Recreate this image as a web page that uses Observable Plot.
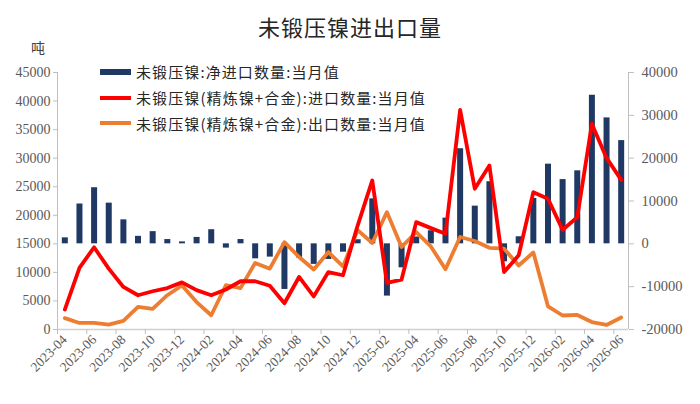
<!DOCTYPE html>
<html><head><meta charset="utf-8">
<script src="https://cdn.jsdelivr.net/npm/d3@7"></script>
<script src="https://cdn.jsdelivr.net/npm/@observablehq/plot@0.6"></script>
<style>
body{margin:0;background:#fff;}
#wrap{position:relative;width:700px;height:404px;overflow:hidden;background:#fff;}
#title{position:absolute;left:0;top:10px;width:700px;text-align:center;font-family:"Noto Sans CJK SC",sans-serif;font-size:22px;color:#262626;letter-spacing:1px;}
#unit{position:absolute;left:31px;top:37px;font-family:"Noto Sans CJK SC",sans-serif;font-size:14px;color:#404040;}
#legend{position:absolute;left:100px;top:59px;font-family:"Noto Sans CJK SC",sans-serif;font-size:15px;color:#262626;letter-spacing:1.1px;}
.row{display:flex;align-items:center;height:25.7px;white-space:nowrap;}
.sw{width:31px;margin-right:5px;}
</style></head>
<body>
<div id="wrap">
  <div id="chart"></div>
  <div id="title"></div>
  <div id="unit">吨</div>
  <div id="legend"></div>
</div>
<script>
const months = ["2023-04","2023-05","2023-06","2023-07","2023-08","2023-09","2023-10","2023-11","2023-12",
  "2024-01","2024-02","2024-03","2024-04","2024-05","2024-06","2024-07","2024-08","2024-09","2024-10","2024-11","2024-12",
  "2025-01","2025-02","2025-03","2025-04","2025-05","2025-06","2025-07","2025-08","2025-09","2025-10","2025-11","2025-12",
  "2026-01","2026-02","2026-03","2026-04","2026-05","2026-06"];
// net imports (right axis), tonnes
const netImport = [1400,9300,13100,9500,5600,1750,2850,1000,450,1500,
  3300,-1000,1000,-3500,-3100,-10650,-3300,-4800,-3650,-1950,
  950,10500,-12200,-5600,1600,3050,6000,22200,8800,14500,
  -4200,1650,10600,18600,15000,17050,34700,29400,24100];
// imports (left axis)
const imports = [3500,10800,14400,10650,7450,6000,6700,7250,8250,6900,
  6000,7000,8450,8450,7650,4600,9200,5800,10050,9500,
  18200,26100,8150,8750,18800,17750,16750,38450,24650,28700,
  10050,13000,24050,22900,17450,19650,36000,30050,26200];
// exports (left axis)
const exports = [2000,1150,1150,850,1500,3950,3600,6000,7700,4800,
  2500,7750,7250,11650,10650,15300,12700,10500,13550,11050,
  17400,15150,20550,14450,17050,14550,10550,16200,15500,14300,
  14150,11200,13500,4050,2450,2550,1300,800,2100];
const leftTicks = [0,5000,10000,15000,20000,25000,30000,35000,40000,45000];
const rightTicks = [-20000,-10000,0,10000,20000,30000,40000];
const titleText = "未锻压镍进出口量";
const seriesNames = ["未锻压镍:净进口数量:当月值","未锻压镍(精炼镍+合金):进口数量:当月值","未锻压镍(精炼镍+合金):出口数量:当月值"];
const colors = ["#1F3864","#FF0000","#ED7D31"];

const leftMax = 45000, rMin = -20000, rMax = 40000;
const toLeft = v => (v - rMin) * leftMax / (rMax - rMin);
const fromLeft = v => v * (rMax - rMin) / leftMax + rMin;

const data = months.map((m,i) => ({i, m, net: netImport[i], imp: imports[i], exp: exports[i]}));
const xDomain = [-0.5, months.length - 0.5];
const labelIdx = months.map((m,i)=>i).filter(i => i % 2 === 0);
const numFont = '"Liberation Serif","Times New Roman",serif';

const plot = Plot.plot({
  width: 700, height: 404,
  marginLeft: 57, marginRight: 72, marginTop: 72, marginBottom: 75,
  style: {fontFamily: numFont, fontSize: "14px", color: "#595959", background: "#fff"},
  x: {type: "linear", domain: xDomain},
  y: {domain: [0, leftMax]},
  marks: [
    Plot.ruleX(data, {x: "i", y1: toLeft(0), y2: d => toLeft(d.net), stroke: colors[0], strokeWidth: 6, strokeLinecap: "butt"}),
    Plot.line(data, {x: "i", y: "exp", stroke: colors[2], strokeWidth: 3.8, strokeLinejoin: "round"}),
    Plot.line(data, {x: "i", y: "imp", stroke: colors[1], strokeWidth: 3.8, strokeLinejoin: "round"}),
    Plot.ruleX(xDomain, {y1: 0, y2: leftMax, stroke: "#BFBFBF", strokeWidth: 1}),
    Plot.ruleY([0], {stroke: "#D0D0D0", strokeWidth: 1.5}),
    Plot.axisY({anchor: "left", ticks: leftTicks, tickSize: 4, tickPadding: 3, tickFormat: d => String(d), stroke: "#BFBFBF", label: null, fontSize: 14}),
    Plot.axisY({anchor: "right", ticks: rightTicks.map(toLeft), tickSize: 5, tickPadding: 8, tickFormat: d => String(Math.round(fromLeft(d))), stroke: "#BFBFBF", label: null, fontSize: 14.5}),
    Plot.axisX({ticks: labelIdx.map(i => i - 0.5), tickSize: 5, tickFormat: () => "", stroke: "#BFBFBF", label: null}),
    Plot.axisX({ticks: labelIdx, tickSize: 0, tickPadding: 8, tickRotate: -45, tickFormat: i => months[i], label: null, fontSize: 13.5})
  ]
});
document.getElementById("chart").appendChild(plot);
document.getElementById("title").textContent = titleText;
const leg = document.getElementById("legend");
seriesNames.forEach((name, k) => {
  const row = document.createElement("div");
  row.className = "row";
  const sw = document.createElement("div");
  sw.className = "sw";
  sw.style.background = colors[k];
  sw.style.height = k === 0 ? "6px" : "4px";
  row.appendChild(sw);
  const t = document.createElement("span");
  t.textContent = name;
  row.appendChild(t);
  leg.appendChild(row);
});
</script>
</body></html>
